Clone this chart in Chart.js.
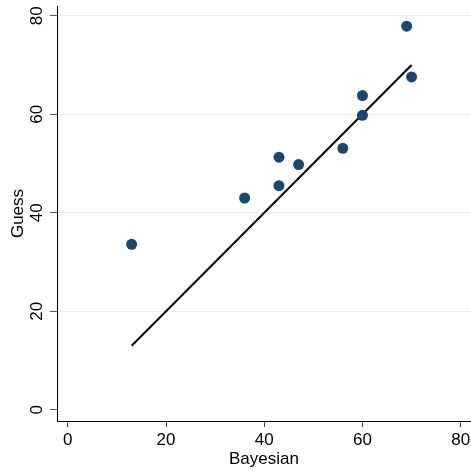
<!DOCTYPE html>
<html>
<head>
<meta charset="utf-8">
<script src="https://cdn.jsdelivr.net/npm/chart.js@4.4.0/dist/chart.umd.min.js"></script>
<style>
  html, body { margin: 0; padding: 0; background: #fff; }
  #wrap { width: 471px; height: 473px; }
</style>
</head>
<body>
<div id="wrap"><canvas id="chart" width="471" height="473"></canvas></div>
<script>
// ==== DATA ====
const bayesian = [13, 36, 43, 43, 47, 56, 60, 60, 69, 70];
const guess = [33.6, 43, 45.5, 51.3, 49.8, 53.1, 59.8, 63.8, 77.9, 67.6];

// 45 degree reference line
const lineX = [13, 70];
const lineY = [13, 70];

const xTicks = [0, 20, 40, 60, 80];
const yTicks = [0, 20, 40, 60, 80];

const FONT = "'Liberation Sans', Arial, sans-serif";
const NAVY = "#1a476f";

// draws the y tick labels rotated (reading bottom to top)
const rotatedYLabels = {
  id: "rotatedYLabels",
  afterDraw(chart) {
    const ctx = chart.ctx;
    const y = chart.scales.y;
    ctx.save();
    ctx.fillStyle = "#000";
    ctx.font = "17px " + FONT;
    ctx.textAlign = "center";
    ctx.textBaseline = "middle";
    yTicks.forEach(v => {
      const py = y.getPixelForValue(v);
      ctx.save();
      ctx.translate(37, py);
      ctx.rotate(-Math.PI / 2);
      ctx.fillText(String(v), 0, 0);
      ctx.restore();
    });
    ctx.restore();
  }
};

const whiteBg = {
  id: "whiteBg",
  beforeDraw(chart) {
    const ctx = chart.ctx;
    ctx.save();
    ctx.fillStyle = "#fff";
    ctx.fillRect(0, 0, chart.width, chart.height);
    ctx.restore();
  }
};

new Chart(document.getElementById("chart").getContext("2d"), {
  type: "scatter",
  data: {
    datasets: [
      {
        type: "line",
        data: lineX.map((x, i) => ({ x, y: lineY[i] })),
        borderColor: "#000",
        borderWidth: 2,
        pointRadius: 0,
        fill: false,
        order: 2
      },
      {
        data: bayesian.map((x, i) => ({ x, y: guess[i] })),
        backgroundColor: NAVY,
        borderColor: NAVY,
        borderWidth: 0,
        pointRadius: 5.5,
        order: 1
      }
    ]
  },
  options: {
    responsive: false,
    animation: false,
    devicePixelRatio: 1,
    layout: { autoPadding: false, padding: { top: 6, right: 0, left: 0, bottom: 0 } },
    plugins: {
      legend: { display: false },
      tooltip: { enabled: false }
    },
    scales: {
      x: {
        type: "linear",
        min: -2.2,
        max: 82.1,
        afterBuildTicks: s => { s.ticks = xTicks.map(v => ({ value: v })); },
        afterFit: s => { s.height = 52; s.paddingLeft = 0; s.paddingRight = 0; },
        border: { color: "#000", width: 1 },
        grid: {
          color: "rgba(0,0,0,0)",
          tickColor: "#444",
          tickLength: 6,
          drawTicks: true
        },
        ticks: {
          color: "#000",
          font: { family: FONT, size: 17 },
          padding: 3,
          maxRotation: 0
        },
        title: {
          display: true,
          text: "Bayesian",
          color: "#000",
          font: { family: FONT, size: 17 },
          padding: { top: 0, bottom: 3 }
        }
      },
      y: {
        type: "linear",
        min: -2.3,
        max: 82,
        afterBuildTicks: s => { s.ticks = yTicks.map(v => ({ value: v })); },
        afterFit: s => { s.width = 57; s.paddingTop = 0; s.paddingBottom = 0; },
        border: { color: "#000", width: 1 },
        grid: {
          color: ctx => (ctx.tick && ctx.tick.value === 0 ? "rgba(0,0,0,0)" : "#e7eef3"),
          tickColor: "#555",
          tickLength: 7,
          lineWidth: 1
        },
        ticks: { display: false },
        title: {
          display: true,
          text: "Guess",
          color: "#000",
          font: { family: FONT, size: 17 },
          padding: { top: 8, bottom: 0 }
        }
      }
    }
  },
  plugins: [whiteBg, rotatedYLabels]
});
</script>
</body>
</html>
